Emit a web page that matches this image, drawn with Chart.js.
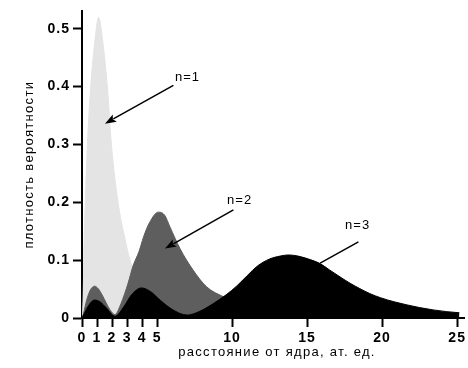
<!DOCTYPE html>
<html>
<head>
<meta charset="utf-8">
<script src="https://cdn.jsdelivr.net/npm/chart.js@4.4.1/dist/chart.umd.min.js"></script>
<style>
    html, body { margin: 0; padding: 0; background: #fff; }
    #box { width: 468px; height: 368px; }
</style>
</head>
<body>
<div id="box"><canvas id="grafico"></canvas></div>
<script>
// valores (x em ат. ед., y = densidade)
const xTicks = [0, 1, 2, 3, 4, 5, 10, 15, 20, 25];
const yTicks = [0, 0.1, 0.2, 0.3, 0.4, 0.5];

// n = 1
const n1X = [0, 0.08, 0.13, 0.22, 0.36, 0.58, 0.84, 1.11, 1.4, 1.69, 1.96, 2.4, 2.84, 3.2, 3.5, 4.2, 5, 6, 7, 8];
const n1Y = [0, 0.04, 0.12, 0.2, 0.3, 0.4, 0.474, 0.52, 0.474, 0.4, 0.3, 0.2, 0.14, 0.1, 0.08, 0.05, 0.03, 0.015, 0.006, 0];

// n = 2
const n2X = [0, 0.1, 0.3, 0.55, 0.84, 1.1, 1.4, 1.8, 2.2, 2.6, 3.07, 3.4, 3.8, 4.1, 4.5, 5.09, 5.5, 5.87, 6.53, 7.4, 8.3, 9.4, 10.5, 12, 14, 17];
const n2Y = [0, 0.008, 0.03, 0.048, 0.055, 0.05, 0.037, 0.017, 0.006, 0.025, 0.06, 0.09, 0.115, 0.14, 0.165, 0.183, 0.178, 0.157, 0.12, 0.083, 0.054, 0.037, 0.025, 0.012, 0.004, 0];

// n = 3
const n3X = [0, 0.1, 0.4, 0.84, 1.2, 1.6, 2.2, 2.8, 3.3, 3.96, 4.6, 5.2, 6, 7, 7.8, 8.7, 9.6, 10.3, 11, 11.7, 12.5, 13.2, 13.76, 14.4, 15.2, 15.87, 16.5, 17.2, 17.87, 18.5, 19.2, 19.9, 20.8, 21.6, 22.5, 23.4, 24.3, 25.15];
const n3Y = [0, 0.005, 0.02, 0.031, 0.028, 0.018, 0.003, 0.02, 0.04, 0.052, 0.045, 0.031, 0.015, 0.005, 0.011, 0.024, 0.04, 0.055, 0.073, 0.09, 0.102, 0.107, 0.109, 0.107, 0.101, 0.094, 0.083, 0.071, 0.06, 0.051, 0.042, 0.035, 0.028, 0.023, 0.018, 0.014, 0.011, 0.009];

// setas: texto e linha em unidades dos eixos
const rotulos = ["n=1", "n=2", "n=3"];
const rotuloX = [6.2, 9.67, 17.53];
const rotuloY = [0.4155, 0.203, 0.16];
const setaDeX = [6.09, 10.09, 18.42];
const setaDeY = [0.402, 0.187, 0.1316];
const setaAteX = [1.53, 5.53, 15.87];
const setaAteY = [0.336, 0.12, 0.0948];
const comPonta = [true, true, false];

const fonte = "'Liberation Sans', Arial, sans-serif";

function pontos(xs, ys) {
    return xs.map((x, i) => ({ x: x, y: ys[i] }));
}

const anotacoes = {
    id: "anotacoes",
    beforeDraw(chart) {
        // espaçamento das letras dos números dos eixos
        chart.ctx.letterSpacing = "1px";
    },
    afterDraw(chart) {
        const ctx = chart.ctx;
        const sx = chart.scales.x;
        const sy = chart.scales.y;
        const area = chart.chartArea;

        ctx.save();
        ctx.fillStyle = "#000";
        ctx.strokeStyle = "#000";

        // títulos dos eixos
        ctx.font = "13px " + fonte;
        ctx.letterSpacing = "1.3px";
        ctx.textAlign = "center";
        ctx.textBaseline = "middle";
        ctx.fillText("расстояние от ядра, ат. ед.", 277, 352);

        ctx.save();
        ctx.translate(29, (area.top + area.bottom) / 2);
        ctx.rotate(-Math.PI / 2);
        ctx.fillText("плотность вероятности", 0, 0);
        ctx.restore();

        // rótulos n=1, n=2, n=3
        ctx.letterSpacing = "1px";
        ctx.textAlign = "left";
        for (let i = 0; i < rotulos.length; i++) {
            ctx.fillText(rotulos[i], sx.getPixelForValue(rotuloX[i]), sy.getPixelForValue(rotuloY[i]));

            const x0 = sx.getPixelForValue(setaDeX[i]);
            const y0 = sy.getPixelForValue(setaDeY[i]);
            const x1 = sx.getPixelForValue(setaAteX[i]);
            const y1 = sy.getPixelForValue(setaAteY[i]);
            const ang = Math.atan2(y1 - y0, x1 - x0);
            const comp = 12;

            ctx.lineWidth = 1.5;
            ctx.beginPath();
            ctx.moveTo(x0, y0);
            if (comPonta[i]) {
                ctx.lineTo(x1 - Math.cos(ang) * comp * 0.8, y1 - Math.sin(ang) * comp * 0.8);
            } else {
                ctx.lineTo(x1, y1);
            }
            ctx.stroke();

            if (comPonta[i]) {
                ctx.beginPath();
                ctx.moveTo(x1, y1);
                ctx.lineTo(x1 - Math.cos(ang - 0.35) * comp, y1 - Math.sin(ang - 0.35) * comp);
                ctx.lineTo(x1 - Math.cos(ang) * comp * 0.75, y1 - Math.sin(ang) * comp * 0.75);
                ctx.lineTo(x1 - Math.cos(ang + 0.35) * comp, y1 - Math.sin(ang + 0.35) * comp);
                ctx.closePath();
                ctx.fill();
            }
        }
        ctx.restore();
        ctx.letterSpacing = "0px";
    }
};

const serie = (xs, ys, cor, ordem) => ({
    data: pontos(xs, ys),
    backgroundColor: cor,
    borderColor: cor,
    borderWidth: 1,
    pointRadius: 0,
    fill: "origin",
    cubicInterpolationMode: "monotone",
    order: ordem
});

new Chart(document.getElementById("grafico"), {
    type: "line",
    data: {
        datasets: [
            serie(n1X, n1Y, "#e4e4e4", 3),
            serie(n2X, n2Y, "#5e5e5e", 2),
            serie(n3X, n3Y, "#000000", 1)
        ]
    },
    options: {
        responsive: true,
        maintainAspectRatio: false,
        animation: false,
        devicePixelRatio: 1,
        layout: { padding: { top: 11, right: 3, left: 0, bottom: 0 } },
        plugins: {
            legend: { display: false },
            tooltip: { enabled: false }
        },
        scales: {
            x: {
                type: "linear",
                min: 0,
                max: 25.5,
                afterBuildTicks: s => { s.ticks = xTicks.map(v => ({ value: v })); },
                afterFit: s => { s.height = 50; },
                grid: { drawOnChartArea: false, tickLength: 9, tickWidth: 2, tickColor: "#000" },
                border: { color: "#000", width: 2 },
                ticks: {
                    autoSkip: false,
                    maxRotation: 0,
                    color: "#000",
                    padding: 3,
                    font: { family: fonte, size: 14, weight: "bold" }
                }
            },
            y: {
                min: 0,
                max: 0.53,
                afterBuildTicks: s => { s.ticks = yTicks.map(v => ({ value: v })); },
                afterFit: s => { s.width = 82; },
                grid: { drawOnChartArea: false, tickLength: 9, tickWidth: 2, tickColor: "#000" },
                border: { color: "#000", width: 2 },
                ticks: {
                    color: "#000",
                    padding: 3,
                    font: { family: fonte, size: 14, weight: "bold" },
                    callback: v => v === 0 ? "0" : v.toFixed(1)
                }
            }
        }
    },
    plugins: [anotacoes]
});
</script>
</body>
</html>
